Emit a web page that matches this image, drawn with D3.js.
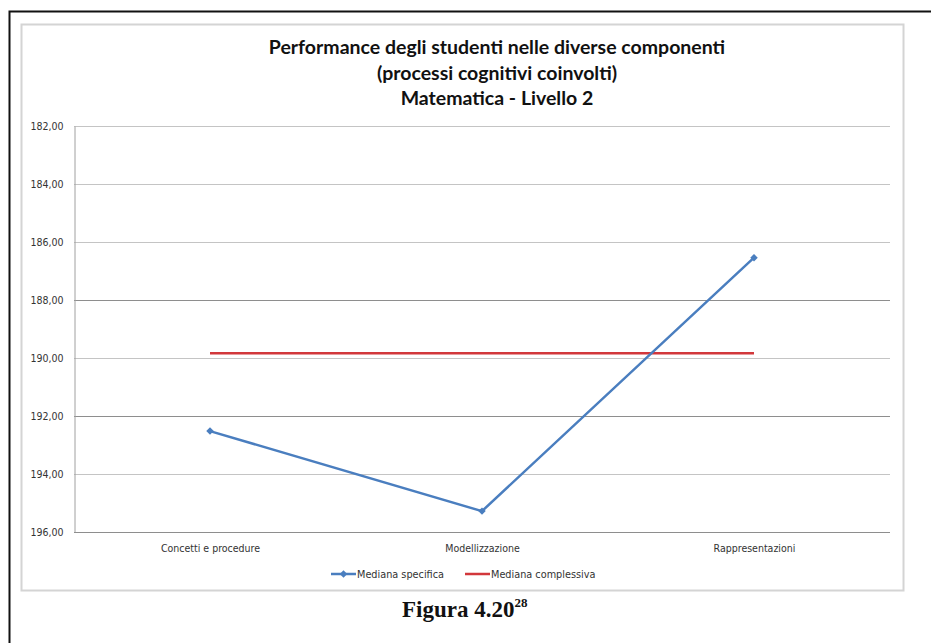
<!DOCTYPE html>
<html>
<head>
<meta charset="utf-8">
<script src="https://cdn.jsdelivr.net/npm/d3@7"></script>
<style>
  body { margin: 0; background: #fff; }
  svg { display: block; }
  .tick text { font-family: "Liberation Sans Narrow", "DejaVu Sans Condensed", Lato, sans-serif; }
</style>
</head>
<body>
<script>
const categories = ['Concetti e procedure', 'Modellizzazione', 'Rappresentazioni'];
const specifica = [192.52, 195.28, 186.54];
const complessiva = [189.84, 189.84, 189.84];
const yTicks = [182, 184, 186, 188, 190, 192, 194, 196];
const titleLines = [
  'Performance degli studenti nelle diverse componenti',
  '(processi cognitivi coinvolti)',
  'Matematica - Livello 2'
];
const seriesNames = ['Mediana specifica', 'Mediana complessiva'];

const w = 931, h = 643;
const plotLeft = 74, plotRight = 890, plotTop = 126, plotBottom = 532;
const blue = '#4a7ebf', red = '#d2373b';
const font = 'Lato, "Liberation Sans", sans-serif';

const svg = d3.select('body').append('svg').attr('width', w).attr('height', h);

// page border (black) and chart frame (light gray)
svg.append('path').attr('d', 'M9.5,' + h + 'V11.5H' + w)
  .attr('fill', 'none').attr('stroke', '#111').attr('stroke-width', 2);
svg.append('rect').attr('x', 21.5).attr('y', 24.5).attr('width', 882).attr('height', 566)
  .attr('fill', 'none').attr('stroke', '#d4d4d4').attr('stroke-width', 2);

const x = d3.scalePoint().domain(categories).range([plotLeft, plotRight]).padding(0.5);
const y = d3.scaleLinear().domain([182, 196]).range([plotTop, plotBottom]);

const comma = d3.formatLocale({decimal: ',', thousands: '.', grouping: [3], currency: ['', '€']});

// gridlines
svg.append('g').selectAll('line').data(yTicks.slice(0, -1)).enter().append('line')
  .attr('x1', plotLeft).attr('x2', plotRight)
  .attr('y1', d => y(d) + 0.5).attr('y2', d => y(d) + 0.5)
  .attr('stroke', d => (d === 188 || d === 192) ? '#8e8e8e' : '#c4c4c4')
  .attr('stroke-width', 1);

const yAxis = d3.axisLeft(y).tickValues(yTicks).tickFormat(comma.format('.2f')).tickSize(0).tickPadding(11);
const gy = svg.append('g').attr('transform', 'translate(' + (plotLeft + 0.5) + ',0)').call(yAxis);
gy.select('.domain').attr('stroke', '#a0a0a0');
gy.selectAll('text').attr('font-size', 10.5).attr('fill', '#333');

const xAxis = d3.axisBottom(x).tickSize(0).tickPadding(12);
const gx = svg.append('g').attr('transform', 'translate(0,' + (plotBottom + 0.5) + ')').call(xAxis);
gx.select('.domain').attr('stroke', '#8e8e8e').attr('d', 'M' + plotLeft + ',0H' + plotRight);
gx.selectAll('text').attr('font-size', 10.5).attr('fill', '#333');

// series
const line = d3.line().x((d, i) => x(categories[i])).y(d => y(d));

svg.append('path').datum(complessiva).attr('d', line)
  .attr('fill', 'none').attr('stroke', red).attr('stroke-width', 2.5);

svg.append('path').datum(specifica).attr('d', line)
  .attr('fill', 'none').attr('stroke', blue).attr('stroke-width', 2.5);

const diamond = d3.symbol().type(d3.symbolSquare).size(28);
svg.append('g').selectAll('path').data(specifica).enter().append('path')
  .attr('d', diamond)
  .attr('transform', (d, i) => 'translate(' + x(categories[i]) + ',' + y(d) + ') rotate(45)')
  .attr('fill', blue);

// title
svg.append('g').selectAll('text').data(titleLines).enter().append('text')
  .attr('x', 497).attr('y', (d, i) => 54 + i * 25.5)
  .attr('text-anchor', 'middle').attr('font-family', font)
  .attr('font-weight', 'bold').attr('font-size', 19.5).attr('fill', '#111')
  .text(d => d);

// legend
const lg = svg.append('g').attr('transform', 'translate(0,574)');
const legX = [331, 465];
const legColors = [blue, red];
seriesNames.forEach((name, i) => {
  lg.append('line').attr('x1', legX[i]).attr('x2', legX[i] + 25).attr('y1', 0).attr('y2', 0)
    .attr('stroke', legColors[i]).attr('stroke-width', 2.5);
  if (i === 0) {
    lg.append('path').attr('d', diamond).attr('transform', 'translate(' + (legX[i] + 12.5) + ',0) rotate(45)').attr('fill', blue);
  }
  lg.append('text').attr('x', legX[i] + 26).attr('y', 3.5)
    .attr('font-family', '"Liberation Sans Narrow", "DejaVu Sans Condensed", Lato, sans-serif')
    .attr('font-size', 10.8).attr('fill', '#333').text(name);
});

// caption
const cap = svg.append('text').attr('x', 402).attr('y', 617)
  .attr('font-family', '"Liberation Serif", "Times New Roman", serif')
  .attr('font-weight', 'bold').attr('font-size', 23).attr('fill', '#111');
cap.append('tspan').text('Figura 4.20');
cap.append('tspan').attr('dy', -10).attr('font-size', 13).text('28');
</script>
</body>
</html>
